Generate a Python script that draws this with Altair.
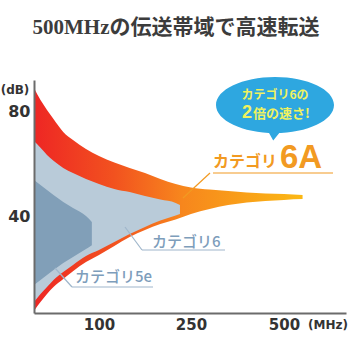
import altair as alt
import pandas as pd

# ---- data (frequency in MHz, attenuation-like value in dB) ----
mhz_6a = [0, 10, 20, 30, 45, 60, 80, 100, 125, 150, 175, 200, 225, 250, 300, 350, 400, 450, 500, 550]
upper_6a = [89.2, 84.6, 80.8, 77.3, 72.3, 69.2, 65.8, 63.1, 60.6, 58.5, 56.5, 54.2, 52.3, 51.0, 50.2, 49.6, 49.0, 48.7, 48.5, 48.1]
lower_6a = [3.5, 6.9, 10.0, 12.7, 15.8, 18.8, 22.3, 25.0, 28.5, 31.9, 34.6, 36.9, 38.7, 40.8, 42.7, 44.2, 45.2, 45.8, 46.2, 46.5]

mhz_6 = [0, 10, 20, 30, 45, 60, 80, 100, 125, 150, 175, 200, 225, 232]
upper_6 = [68.8, 66.2, 63.5, 61.2, 58.5, 56.5, 54.2, 52.3, 50.4, 49.2, 47.7, 46.3, 45.0, 44.2]
lower_6 = [6.9, 10.0, 12.7, 15.4, 18.5, 21.2, 24.6, 26.9, 30.0, 33.1, 35.8, 38.3, 40.2, 40.8]

mhz_5e = [0, 10, 20, 30, 45, 60, 80, 89]
upper_5e = [53.8, 51.9, 50.0, 48.1, 45.4, 43.1, 40.0, 37.7]
lower_5e = [13.5, 15.4, 17.3, 19.2, 21.9, 24.2, 27.3, 28.8]

x_ticks = [100, 250, 500]
y_ticks = [40, 80]

title_text = "500MHzの伝送帯域で高速転送"
label_6a_a = "カテゴリ"
label_6a_b = "6A"
label_6 = "カテゴリ6"
label_5e = "カテゴリ5e"
bubble_1 = "カテゴリ6の"
bubble_2a = "2"
bubble_2b = "倍の速さ!"

df6a = pd.DataFrame({"mhz": mhz_6a, "hi": upper_6a, "lo": lower_6a})
df6 = pd.DataFrame({"mhz": mhz_6, "hi": upper_6, "lo": lower_6})
df5e = pd.DataFrame({"mhz": mhz_5e, "hi": upper_5e, "lo": lower_5e})

W, H = 312, 233
xscale = alt.Scale(domain=[0, 100, 250, 500, 667], range=[0, 65, 157, 250, W], nice=False, zero=False)
yscale = alt.Scale(domain=[2.7, 92.3], nice=False, zero=False)

AX_FONT = "DejaVu Sans"
JP = "Noto Sans CJK JP"

xaxis = alt.Axis(values=x_ticks, title=None, ticks=False, grid=False, domainColor="#6b6b6b",
                 domainWidth=2, labelFont=AX_FONT, labelFontWeight="bold", labelFontSize=15,
                 labelColor="#333333", labelPadding=4, zindex=1)
yaxis = alt.Axis(values=y_ticks, title=None, ticks=False, grid=False, domainColor="#6b6b6b",
                 domainWidth=2, labelFont=AX_FONT, labelFontWeight="bold", labelFontSize=16,
                 labelColor="#333333", labelPadding=4, zindex=1)

grad = alt.Gradient(
    gradient="linear",
    stops=[
        alt.GradientStop(color="#ee2624", offset=0),
        alt.GradientStop(color="#f2521f", offset=0.3),
        alt.GradientStop(color="#f7861d", offset=0.55),
        alt.GradientStop(color="#fbb814", offset=1),
    ],
    x1=0, x2=1, y1=0, y2=0,
)

area6a = alt.Chart(df6a).mark_area(color=grad, interpolate="monotone").encode(
    x=alt.X("mhz:Q", scale=xscale, axis=xaxis),
    y=alt.Y("hi:Q", scale=yscale, axis=yaxis),
    y2="lo:Q",
)
area6 = alt.Chart(df6).mark_area(color="#b9cbd9", interpolate="monotone").encode(
    x=alt.X("mhz:Q", scale=xscale), y=alt.Y("hi:Q", scale=yscale), y2="lo:Q"
)
area5e = alt.Chart(df5e).mark_area(color="#819fb8", interpolate="monotone").encode(
    x=alt.X("mhz:Q", scale=xscale), y=alt.Y("hi:Q", scale=yscale), y2="lo:Q"
)

one = alt.Data(values=[{"a": 1}])


def txt(text, x, y, size, color, font=JP, weight="normal", align="left", baseline="middle"):
    return alt.Chart(one).mark_text(
        text=text, fontSize=size, font=font, fontWeight=weight, color=color,
        align=align, baseline=baseline,
    ).encode(x=alt.value(x), y=alt.value(y))


def line(x, y, x2, y2, color, w=1.2):
    return alt.Chart(one).mark_rule(color=color, strokeWidth=w).encode(
        x=alt.value(x), y=alt.value(y), x2=alt.value(x2), y2=alt.value(y2)
    )


ORANGE = "#f29a22"
BLUE_TXT = "#7d9dbb"
BLUE_LINE = "#9fb6cb"
YEL = "#f0f25e"

bubble_path = ("M -1 0 A 1 0.475 0 0 1 1 0 A 1 0.475 0 0 1 -1 0 Z "
               "M 0.1 0.44 L -0.03 0.6 L -0.12 0.44 Z")
bubble = alt.Chart(one).mark_point(shape=bubble_path, filled=True, color="#2ea7e0",
                                    opacity=1, size=13924, strokeWidth=0).encode(
    x=alt.value(241), y=alt.value(25)
)

layers = [
    area6a, area6, area5e,
    # title
    txt(title_text, 142, -52, 21, "#3c3c3c", font="Liberation Serif, Noto Sans CJK JP",
        weight="bold", align="center"),
    # unit labels
    txt("(dB)", -19, 10, 12, "#333333", font=AX_FONT, weight="bold", align="center"),
    txt("(MHz)", 294, 245, 12, "#333333", font=AX_FONT, weight="bold", align="center"),
    # category 6A label
    line(179, 93, 299, 93, ORANGE),
    line(176, 93, 149, 118, ORANGE),
    txt(label_6a_a, 179, 87, 16, ORANGE, weight="bold", baseline="alphabetic"),
    txt(label_6a_b, 246, 88, 33, ORANGE, font="Liberation Sans", weight="bold", baseline="alphabetic"),
    # category 6 label
    line(108, 170, 191, 170, BLUE_LINE),
    line(108, 170, 91, 147, BLUE_LINE),
    txt(label_6, 118, 162, 15, BLUE_TXT, weight=500),
    # category 5e label
    line(38, 207, 119, 207, BLUE_LINE),
    line(38, 207, 21, 188, BLUE_LINE),
    txt(label_5e, 41, 197, 15, BLUE_TXT, weight=500),
    # callout bubble
    bubble,
    txt(bubble_1, 241, 15, 12, YEL, weight="bold", align="center"),
    txt(bubble_2a, 208, 38, 18, YEL, font="Liberation Sans", weight="bold", baseline="alphabetic"),
    txt(bubble_2b, 219, 38, 13, YEL, weight="bold", baseline="alphabetic"),
]

chart = alt.layer(*layers).properties(
    width=W, height=H,
    autosize=alt.AutoSizeParams(type="none"),
    padding={"left": 34, "top": 80, "right": 4, "bottom": 37},
    background="white",
).configure_view(stroke=None)

chart.save("out.html", embed_options={"renderer": "svg", "actions": False})
